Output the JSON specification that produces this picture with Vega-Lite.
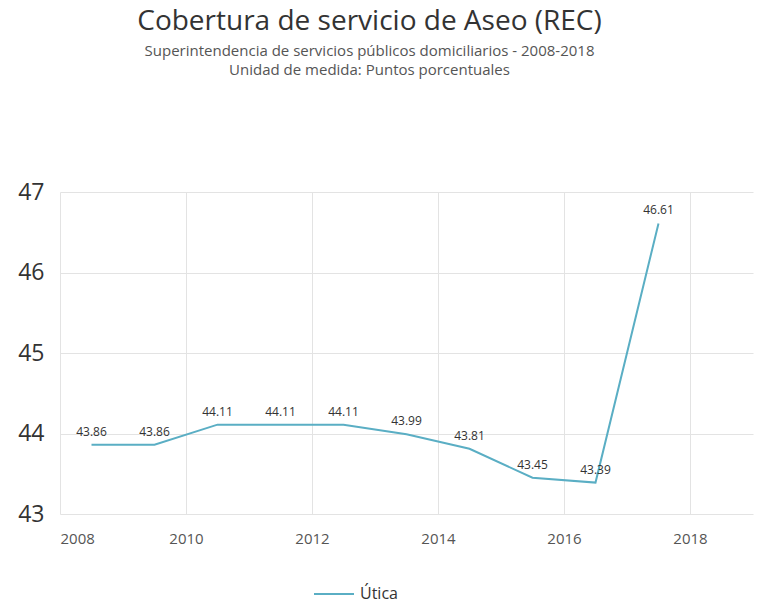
{
  "$schema": "https://vega.github.io/schema/vega-lite/v6.json",
  "autosize": {"type": "none"},
  "width": 693,
  "height": 322,
  "padding": {"left": 60, "top": 192, "right": 14, "bottom": 101},
  "background": "white",
  "title": {
    "text": "Cobertura de servicio de Aseo (REC)",
    "subtitle": ["Superintendencia de servicios públicos domiciliarios - 2008-2018", "Unidad de medida: Puntos porcentuales"],
    "anchor": "middle",
    "dx": -37,
    "offset": 103,
    "font": "Open Sans",
    "fontSize": 28,
    "fontWeight": "normal",
    "color": "#333333",
    "subtitleFont": "Open Sans",
    "subtitleFontSize": 15,
    "subtitleColor": "#555555",
    "subtitleLineHeight": 19,
    "subtitlePadding": 8
  },
  "config": {
    "view": {"stroke": null},
    "font": "Open Sans",
    "axis": {"grid": true, "gridColor": "#e3e3e3", "domain": false, "ticks": false, "title": null}
  },
  "data": {
    "values": [
      {"anio": 2008.5, "valor": 43.86, "serie": "Útica"},
      {"anio": 2009.5, "valor": 43.86, "serie": "Útica"},
      {"anio": 2010.5, "valor": 44.11, "serie": "Útica"},
      {"anio": 2011.5, "valor": 44.11, "serie": "Útica"},
      {"anio": 2012.5, "valor": 44.11, "serie": "Útica"},
      {"anio": 2013.5, "valor": 43.99, "serie": "Útica"},
      {"anio": 2014.5, "valor": 43.81, "serie": "Útica"},
      {"anio": 2015.5, "valor": 43.45, "serie": "Útica"},
      {"anio": 2016.5, "valor": 43.39, "serie": "Útica"},
      {"anio": 2017.5, "valor": 46.61, "serie": "Útica"}
    ]
  },
  "encoding": {
    "x": {
      "field": "anio", "type": "quantitative",
      "scale": {"domain": [2008, 2019], "nice": false, "zero": false},
      "axis": {"values": [2008, 2010, 2012, 2014, 2016, 2018], "format": "d", "labelFontSize": 15, "labelColor": "#555555", "labelPadding": 17}
    },
    "y": {
      "field": "valor", "type": "quantitative",
      "scale": {"domain": [43, 47], "nice": false, "zero": false},
      "axis": {"values": [43, 44, 45, 46, 47], "labelFontSize": 23, "labelColor": "#333333", "labelPadding": 16}
    }
  },
  "layer": [
    {
      "mark": {"type": "line", "strokeWidth": 2},
      "encoding": {
        "color": {
          "field": "serie", "type": "nominal",
          "scale": {"range": ["#5aaec4"]},
          "legend": {"orient": "none", "legendX": 253, "legendY": 381, "title": null, "direction": "horizontal", "symbolType": "stroke", "symbolStrokeWidth": 2, "symbolSize": 1600, "labelFontSize": 16, "labelColor": "#333333", "labelOffset": 5}
        }
      }
    },
    {
      "mark": {"type": "text", "dy": -13, "fontSize": 12, "color": "#333333"},
      "encoding": {"text": {"field": "valor", "type": "quantitative", "format": ".2f"}}
    }
  ]
}
